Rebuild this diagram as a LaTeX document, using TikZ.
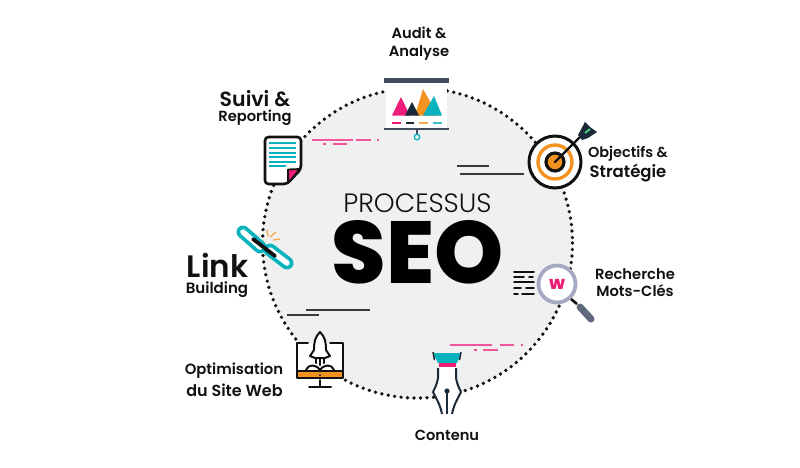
\documentclass[tikz,border=0pt]{standalone}
\usepackage{fontspec}
\setmainfont{Poppins}
\newfontfamily\popsemi{Poppins SemiBold}
\newfontfamily\poplight{Poppins Light}
\newfontfamily\popbold{Poppins ExtraBold}
\definecolor{ink}{HTML}{111111}
\definecolor{navy}{HTML}{1B2A38}
\definecolor{slate}{HTML}{414C5C}
\definecolor{teal1}{HTML}{08B3BE}
\definecolor{pink1}{HTML}{EC1D78}
\definecolor{orange1}{HTML}{F3921E}
\definecolor{pale}{HTML}{F0F0F0}
\definecolor{lav}{HTML}{A6A9C2}
\definecolor{handle}{HTML}{5E6A7C}
\definecolor{dash1}{HTML}{3A3A3A}
\tikzset{
 lbl/.style={font=\popsemi, text=ink, align=center, inner sep=0pt},
 dk/.style={draw=ink, line width=2pt, line cap=round, line join=round},
 ruleline/.style={draw=dash1, line width=1.5pt},
 pinkline/.style={draw=pink1!75, line width=1.1pt},
}
\begin{document}
\begin{tikzpicture}[x=1pt,y=-1pt]
\useasboundingbox (0,0) rectangle (800,467);
\fill[white] (0,0) rectangle (800,467);
% main circle
\fill[pale] (417.5,243) circle (155);
\draw[ink, line width=3.7pt, line cap=round, dash pattern=on 0pt off 6.5pt] (417.5,243) circle (155);
% rules
\draw[ruleline] (457,166) -- (489,166);
\draw[ruleline] (460,174) -- (524,174);
\draw[ruleline] (306,310) -- (370,310);
\draw[ruleline] (287,315) -- (319,315);
\draw[pinkline] (312,140) -- (353,140) (356,140) -- (371,140) (377,140) -- (379,140);
\draw[pinkline] (323,144) -- (326,144) (333,144) -- (347,144);
\draw[pinkline] (450,345) -- (492,345) (500,345) -- (514,345) (521,345) -- (523,345);
\draw[pinkline] (474,350) -- (477,350) (483,350) -- (498,350);
% centre text
\node[font=\poplight\fontsize{26.5}{26.5}\selectfont, text=ink, inner sep=0pt] (proc) at (417.5,203) {PROCESSUS};
\node[font=\popbold\fontsize{88}{88}\selectfont, text=black, inner sep=0pt] (seo) at (417.5,252) {SEO};
% Audit board
\fill[white] (386,83) rectangle (447,129);
\fill[slate] (384,78) rectangle (449,83);
\fill[slate] (384,128) rectangle (449,130);
\draw[slate, line width=1.2pt] (417,130) -- (417,134);
\draw[teal1, line width=1.3pt] (417,137) circle (2.8);
\fill[pink1] (392,115.5) -- (401,97) -- (410,115.5) -- cycle;
\fill[orange1] (415,115.5) -- (423,89) -- (438,115.5) -- cycle;
\fill[navy] (405,115.5) -- (412,102) -- (419,115.5) -- cycle;
\fill[teal1] (423,115.5) -- (434,96) -- (442,115.5) -- cycle;
\draw[pink1, line width=1.1pt] (392,123) -- (401,123);
\draw[navy, line width=1.1pt] (406,123) -- (414,123);
\draw[orange1!80, line width=1.1pt] (419,123) -- (428,123);
\draw[teal1!80, line width=1.1pt] (433,123) -- (442,123);
% Target
\fill[white] (555,162) circle (27);
\draw[ink, line width=3pt] (555,162) circle (26);
\draw[orange1, line width=3.4pt] (555,162) circle (17);
\draw[ink, line width=3.2pt, fill=orange1] (555,162) circle (9);
\draw[ink, line width=2.4pt, line cap=round] (555,162) -- (583,134);
\fill[navy] (578,135) -- (585,122) -- (590,127) -- (597,132) -- (588,138) -- (582,140) -- cycle;
\draw[teal1!50!green!70, line width=1.6pt] (585,133) -- (590,129);
% Magnifier
\draw[ink, line width=1.9pt, line cap=round]
  (514,272) -- (534,272) (514,277) -- (524,277) (529,277) -- (533,277)
  (514,282) -- (534,282) (514,288) -- (521,288) (526,288) -- (534,288)
  (514,294) -- (518,294) (522,294) -- (534,294);
\fill[white] (557,284) circle (19);
\draw[lav, line width=3.8pt] (557,284) circle (18.5);
\node[font=\popbold\fontsize{18}{18}\selectfont, text=pink1, inner sep=0pt] (w) at (557,284.5) {w};
\draw[ink, line width=2.6pt] (571,299) -- (577,304);
\draw[handle, line width=7pt, line cap=round] (580,307) -- (591,319);
% Pen
\fill[white] (438,367) -- (456,367) -- (456,378) .. controls (457,384) and (459,388) .. (461,392) .. controls (458,398) and (454,404) .. (452,414) -- (442,414) .. controls (440,404) and (436,398) .. (433,392) .. controls (435,388) and (437,384) .. (438,378) -- cycle;
\draw[navy, line width=2pt, line join=round] (438,368) -- (438,378) .. controls (437,384) and (435,388) .. (433,392) .. controls (436,398) and (440,404) .. (442,414);
\draw[navy, line width=2pt, line join=round] (456,368) -- (456,378) .. controls (457,384) and (459,388) .. (461,392) .. controls (458,398) and (454,404) .. (452,414);
\draw[navy, line width=1.6pt] (447,391) -- (447,414);
\fill[navy] (447,391) circle (2.6);
\fill[teal1] (433,353) -- (461,353) -- (457,363) -- (438,363) -- cycle;
\draw[navy, line width=1.5pt] (433,352) -- (434.5,360) (461,352) -- (459.5,360);
\fill[pink1] (439,363) -- (456,363) -- (456,367) -- (439,367) -- cycle;
% Monitor
\fill[white] (297,343) rectangle (343,378);
\draw[dk] (308,343) -- (297,343) -- (297,372);
\draw[dk] (330,343) -- (343,343) -- (343,372);
\fill[orange1] (297,371) rectangle (343,378);
\draw[dk] (297,371) rectangle (343,378);
\fill[ink] (320,375) circle (1);
\draw[dk] (320,380) -- (320,387) (309,387) -- (331,387);
\draw[dk, fill=white] (320,332) .. controls (325,337) and (326,342) .. (326,350) -- (330,356) -- (325,358) -- (315,358) -- (310,356) -- (314,350) .. controls (314,342) and (315,337) .. (320,332) -- cycle;
\draw[dk] (320,359) -- (320,365) (316,359) -- (316,363) (324,359) -- (324,363);
\draw[dk] (306,370) .. controls (308,364) and (316,364) .. (320,370) .. controls (324,364) and (332,364) .. (334,370);
% Link
\draw[teal1, line width=13pt, line cap=round] (243,232) -- (260,247);
\draw[white, line width=5.5pt, line cap=round] (243,232) -- (260,247);
\draw[teal1, line width=13pt, line cap=round] (270,250) -- (287,263);
\draw[white, line width=5.5pt, line cap=round] (270,250) -- (287,263);
\draw[ink, line width=3.8pt, line cap=round] (253,239) -- (275,256);
\draw[orange1!80, line width=1.3pt] (267,230) -- (268,236) (270,237) -- (276,232) (273,240) -- (280,239);
% Document
\draw[ink, line width=2.6pt, fill=white, rounded corners=3.5pt] (265,137) -- (301,137) -- (301,169) -- (287,184) -- (265,184) -- cycle;
\draw[teal1, line width=1.5pt] (269,143) -- (296,143) (269,148) -- (296,148) (269,153) -- (296,153) (269,157) -- (296,157) (269,162) -- (296,162) (269,166) -- (286,166);
\draw[ink, line width=1.8pt, fill=pink1, line join=round] (300,169) -- (288,169.5) -- (288,183) -- cycle;
% Labels
\node[lbl, font=\popsemi\fontsize{14.7}{18.5}\selectfont] (audit) at (419,43.5) {Audit \&\\Analyse};
\node[lbl, font=\popsemi\fontsize{20.5}{20.5}\selectfont, text height=14pt, text depth=0pt] (suivi) at (255,99) {Suivi \&};
\node[lbl, font=\popsemi\fontsize{14.7}{14.7}\selectfont, text height=10pt, text depth=3pt] (rep) at (255,118) {Reporting};
\node[lbl, font=\popsemi\fontsize{14.4}{14.4}\selectfont] (obj) at (628,154) {Objectifs \&};
\node[lbl, font=\popsemi\fontsize{16.5}{16.5}\selectfont] (strat) at (628,173) {Stratégie};
\node[lbl, font=\popsemi\fontsize{14.7}{17}\selectfont] (rech) at (635,283) {Recherche\\Mots-Clés};
\node[lbl, font=\popsemi\fontsize{14.6}{14.6}\selectfont] (cont) at (447,435) {Contenu};
\node[lbl, font=\popsemi\fontsize{14.8}{14.8}\selectfont] (opt) at (234,371) {Optimisation};
\node[lbl, font=\popsemi\fontsize{16}{16}\selectfont] (web) at (234.5,390) {du Site Web};
\node[lbl, font=\popsemi\fontsize{31}{31}\selectfont, text height=22pt, text depth=0pt] (link) at (217.5,266) {Link};
\node[lbl, font=\popsemi\fontsize{15}{15}\selectfont, text height=10pt, text depth=3pt] (build) at (217,290) {Building};
\end{tikzpicture}
\end{document}
